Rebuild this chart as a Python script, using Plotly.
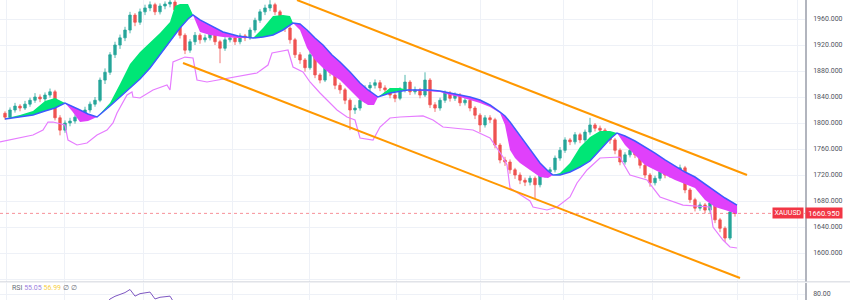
import plotly.graph_objects as go
import numpy as np

# ---------------- data ----------------
opens = [1815, 1809, 1820, 1826, 1823, 1829, 1835, 1840, 1837, 1843,
         1848, 1808, 1789, 1800, 1803, 1809, 1815, 1820, 1829, 1835,
         1866, 1878, 1905, 1920, 1931, 1943, 1966, 1955, 1971, 1977,
         1982, 1971, 1980, 1983, 1986, 1974, 1935, 1912, 1925, 1935,
         1928, 1931, 1937, 1925, 1915, 1928, 1931, 1925, 1934, 1931,
         1943, 1958, 1971, 1977, 1982, 1971, 1955, 1946, 1928, 1905,
         1897, 1885, 1905, 1874, 1866, 1889, 1878, 1858, 1851, 1835,
         1820, 1823, 1835, 1854, 1858, 1862, 1854, 1851, 1843, 1838,
         1851, 1863, 1848, 1851, 1843, 1866, 1828, 1823, 1835, 1846,
         1838, 1843, 1831, 1835, 1823, 1812, 1797, 1808, 1805, 1766,
         1743, 1740, 1728, 1720, 1712, 1709, 1715, 1705, 1720, 1725,
         1728, 1746, 1758, 1774, 1771, 1782, 1774, 1786, 1797, 1792,
         1789, 1778, 1774, 1758, 1740, 1751, 1758, 1751, 1735, 1720,
         1708, 1715, 1725, 1720, 1728, 1723, 1731, 1697, 1682, 1669,
         1674, 1666, 1677, 1651, 1638, 1623, 1663]
closes = [1809, 1820, 1826, 1823, 1829, 1835, 1840, 1837, 1843, 1848,
          1808, 1789, 1800, 1803, 1809, 1815, 1820, 1829, 1835, 1866,
          1878, 1905, 1920, 1931, 1943, 1966, 1955, 1971, 1977, 1982,
          1971, 1980, 1983, 1986, 1974, 1935, 1912, 1925, 1935, 1928,
          1931, 1937, 1925, 1915, 1928, 1931, 1925, 1934, 1931, 1943,
          1958, 1971, 1977, 1982, 1971, 1955, 1946, 1928, 1905, 1897,
          1885, 1905, 1874, 1866, 1889, 1878, 1858, 1851, 1835, 1820,
          1823, 1835, 1854, 1858, 1862, 1854, 1851, 1843, 1838, 1851,
          1863, 1848, 1851, 1843, 1866, 1828, 1823, 1835, 1846, 1838,
          1843, 1831, 1835, 1823, 1812, 1797, 1808, 1805, 1766, 1743,
          1740, 1728, 1720, 1712, 1709, 1715, 1705, 1720, 1725, 1728,
          1746, 1758, 1774, 1771, 1782, 1774, 1786, 1797, 1792, 1789,
          1778, 1774, 1758, 1740, 1751, 1758, 1751, 1735, 1720, 1708,
          1715, 1725, 1720, 1728, 1723, 1731, 1697, 1682, 1669, 1674,
          1666, 1677, 1651, 1638, 1623, 1663, 1660.95]
highs = [1818, 1824, 1831, 1829, 1834, 1839, 1846, 1844, 1847, 1853,
         1851, 1812, 1804, 1808, 1813, 1819, 1825, 1833, 1840, 1870,
         1884, 1909, 1925, 1936, 1948, 1971, 1969, 1976, 1982, 1987,
         1985, 1984, 1987, 1990, 1989, 1977, 1938, 1929, 1940, 1938,
         1936, 1941, 1940, 1928, 1932, 1935, 1934, 1938, 1937, 1947,
         1962, 1975, 1982, 1989, 1985, 1974, 1958, 1949, 1931, 1909,
         1900, 1912, 1908, 1877, 1894, 1892, 1881, 1862, 1854, 1838,
         1828, 1839, 1858, 1863, 1867, 1866, 1858, 1854, 1847, 1855,
         1874, 1866, 1856, 1854, 1878, 1869, 1832, 1839, 1850, 1849,
         1847, 1846, 1840, 1838, 1826, 1815, 1812, 1812, 1808, 1769,
         1748, 1744, 1731, 1724, 1716, 1719, 1718, 1724, 1729, 1732,
         1750, 1763, 1778, 1777, 1786, 1785, 1790, 1808, 1800, 1796,
         1792, 1781, 1777, 1761, 1755, 1763, 1761, 1754, 1738, 1723,
         1719, 1729, 1728, 1734, 1731, 1736, 1734, 1700, 1685, 1678,
         1677, 1681, 1680, 1654, 1641, 1667, 1674]
lows = [1805, 1806, 1816, 1818, 1820, 1825, 1831, 1832, 1833, 1839,
        1804, 1781, 1785, 1795, 1799, 1805, 1811, 1816, 1825, 1832,
        1860, 1874, 1900, 1914, 1926, 1938, 1949, 1951, 1966, 1972,
        1966, 1967, 1975, 1978, 1968, 1930, 1906, 1908, 1920, 1922,
        1924, 1927, 1920, 1892, 1911, 1924, 1920, 1921, 1926, 1928,
        1939, 1954, 1966, 1972, 1966, 1950, 1940, 1922, 1900, 1891,
        1879, 1882, 1869, 1861, 1863, 1872, 1852, 1845, 1829, 1789,
        1814, 1819, 1831, 1849, 1853, 1849, 1845, 1838, 1832, 1835,
        1847, 1843, 1844, 1838, 1840, 1823, 1817, 1819, 1831, 1833,
        1834, 1826, 1827, 1818, 1806, 1786, 1793, 1800, 1761, 1738,
        1734, 1722, 1714, 1706, 1703, 1704, 1684, 1701, 1716, 1720,
        1724, 1742, 1754, 1766, 1767, 1769, 1770, 1782, 1787, 1784,
        1773, 1768, 1752, 1735, 1736, 1747, 1746, 1730, 1715, 1702,
        1704, 1711, 1715, 1716, 1718, 1719, 1692, 1677, 1664, 1665,
        1661, 1662, 1646, 1632, 1617, 1620, 1656]

# moving-average cloud (slow = blue line, fast = cloud edge)
ma_x = [0, 3, 5.6, 8, 10, 12, 13.4, 15, 16.6, 18.4,
        21, 23, 25, 27, 29, 31, 33, 34, 35, 36.6,
        37.6, 39, 41, 43.6, 46.6, 49.6, 51.6, 53.6, 55.6, 57,
        57.6, 59, 60.4, 62, 63.6, 65.4, 67, 69, 71, 72.6,
        73.8, 74.6, 77, 79, 80.6, 83, 85, 87, 89, 91,
        93, 95, 97, 99, 100, 101, 102, 103, 105, 107,
        108.6, 109.6, 111, 113, 115, 117, 119, 121, 122.4, 124,
        126, 128, 130, 132, 134, 136, 138, 140, 142, 144,
        146.4]
ma_slow = [1806.1, 1809.2, 1812.3, 1818.5, 1823.1, 1830.8, 1826.2, 1820.0, 1813.8, 1809.2,
           1826.2, 1840.0, 1853.8, 1867.7, 1884.6, 1904.6, 1924.6, 1935.4, 1946.2, 1960.0,
           1966.2, 1958.5, 1950.8, 1940.0, 1933.8, 1930.8, 1932.3, 1935.4, 1943.1, 1950.8,
           1953.8, 1952.3, 1943.1, 1930.8, 1920.0, 1904.6, 1893.8, 1878.5, 1861.5, 1850.8,
           1844.6, 1840.0, 1846.2, 1849.2, 1850.8, 1850.8, 1850.8, 1849.2, 1846.2, 1843.1,
           1840.0, 1835.4, 1827.7, 1816.9, 1810.8, 1801.5, 1790.8, 1780.0, 1758.5, 1738.5,
           1726.2, 1720.0, 1720.0, 1724.6, 1732.3, 1741.5, 1758.5, 1775.4, 1784.6, 1780.0,
           1772.3, 1763.1, 1753.8, 1743.1, 1733.8, 1724.6, 1716.9, 1706.2, 1695.4, 1684.6,
           1673.8]
ma_fast = [1806.9, 1812.3, 1818.5, 1833.8, 1838.5, 1830.8, 1818.5, 1801.5, 1803.1, 1809.2,
           1830.8, 1860.0, 1890.8, 1909.2, 1923.1, 1938.5, 1955.4, 1980.0, 1983.1, 1983.1,
           1966.2, 1940.0, 1935.4, 1932.3, 1930.8, 1930.8, 1946.2, 1964.6, 1966.2, 1964.6,
           1953.8, 1943.1, 1915.4, 1896.9, 1884.6, 1873.8, 1866.2, 1850.8, 1835.4, 1827.7,
           1827.7, 1840.0, 1853.8, 1853.8, 1850.8, 1850.0, 1849.2, 1847.7, 1843.1, 1840.0,
           1835.4, 1830.8, 1824.6, 1815.4, 1796.9, 1758.5, 1746.2, 1738.5, 1727.7, 1716.9,
           1715.4, 1720.0, 1723.1, 1738.5, 1763.1, 1778.5, 1787.7, 1787.7, 1784.6, 1766.2,
           1750.8, 1735.4, 1727.7, 1720.0, 1712.3, 1706.2, 1700.0, 1681.5, 1670.8, 1666.2,
           1660.0]

# lower violet line
low_x = [-1, 3, 5.6, 7.6, 8.6, 9.6, 12, 12.6, 14.4, 16.4,
         18.4, 20.4, 21.6, 22.4, 24.4, 25.4, 25.6, 27, 29.6, 32.4,
         33, 33.6, 36, 37.6, 38.4, 40.4, 45, 47.6, 50.4, 52.6,
         53.4, 56.6, 57.6, 59.6, 61, 63, 66.4, 68.4, 70, 71,
         73.6, 75, 77, 79, 83.6, 85.6, 87.6, 93.6, 97, 99.6,
         100.4, 101, 103.6, 105, 105.6, 108.4, 110.4, 113, 114.4, 116.4,
         119, 123, 123.6, 125, 128.4, 129.6, 131, 135.6, 141, 141.6,
         143.6, 145, 146.4]
low_line = [1770.8, 1776.9, 1781.5, 1789.2, 1801.5, 1801.5, 1796.9, 1773.8, 1766.2, 1769.2,
            1781.5, 1789.2, 1800.0, 1815.4, 1843.1, 1847.7, 1840.0, 1838.5, 1850.8, 1858.5,
            1850.8, 1893.8, 1901.5, 1900.0, 1866.2, 1863.1, 1869.2, 1873.8, 1876.9, 1889.2,
            1907.7, 1912.3, 1886.2, 1878.5, 1863.1, 1846.2, 1820.0, 1809.2, 1804.6, 1776.9,
            1773.8, 1793.8, 1807.7, 1809.2, 1810.8, 1804.6, 1793.8, 1789.2, 1776.9, 1747.7,
            1735.4, 1700.0, 1686.2, 1680.0, 1670.8, 1666.2, 1670.8, 1686.2, 1707.7, 1727.7,
            1746.2, 1747.7, 1738.5, 1720.0, 1712.3, 1700.0, 1686.2, 1673.8, 1670.8, 1640.0,
            1620.0, 1609.2, 1607.7]

# channel drawing anchors (bar index, price)
chan_upper_x = [58.4, 148.4]
chan_upper_y = [1989.2, 1720.0]
chan_lower_x = [35.6, 147.0]
chan_lower_y = [1892.3, 1561.5]

last_price = 1660.95
price_ticks = [1560, 1600, 1640, 1680, 1720, 1760, 1800, 1840, 1880, 1920, 1960]
month_grid = [0.2, 11.8, 27.6, 45.4, 60.8, 78.2, 95, 111.6, 129.4, 146.4, 158.4]
rsi_legend = ["55.05", "56.99"]
rsi_period = 14

# ---------------- derived ----------------
idx = list(range(len(closes)))

cl = np.array(closes, dtype=float)
d = np.diff(cl)
up = np.where(d > 0, d, 0.0)
dn = np.where(d < 0, -d, 0.0)
rsi = [None] * len(cl)
au = up[:rsi_period].mean()
ad = dn[:rsi_period].mean()
rsi[rsi_period] = 100 - 100 / (1 + au / ad) if ad > 0 else 100
for k in range(rsi_period, len(d)):
    au = (au * (rsi_period - 1) + up[k]) / rsi_period
    ad = (ad * (rsi_period - 1) + dn[k]) / rsi_period
    rsi[k + 1] = 100 - 100 / (1 + au / ad) if ad > 0 else 100


def cloud_segments(xs, fa, sl):
    segs = []
    cx, cf, cs = [xs[0]], [fa[0]], [sl[0]]
    for k in range(len(xs) - 1):
        d0 = fa[k] - sl[k]
        d1 = fa[k + 1] - sl[k + 1]
        if d0 * d1 < 0:
            t = d0 / (d0 - d1)
            xc = xs[k] + t * (xs[k + 1] - xs[k])
            yc = sl[k] + t * (sl[k + 1] - sl[k])
            cx.append(xc); cf.append(yc); cs.append(yc)
            segs.append((cx, cf, cs))
            cx, cf, cs = [xc], [yc], [yc]
        cx.append(xs[k + 1]); cf.append(fa[k + 1]); cs.append(sl[k + 1])
        if d1 == 0 and k + 1 < len(xs) - 1:
            segs.append((cx, cf, cs))
            cx, cf, cs = [xs[k + 1]], [fa[k + 1]], [sl[k + 1]]
    segs.append((cx, cf, cs))
    return segs


GREEN = "#00e676"
MAGENTA = "#e040fb"
FONT = "Roboto, Arial, sans-serif"

fig = go.Figure()

for sx, sf, ss in cloud_segments(ma_x, ma_fast, ma_slow):
    if len(sx) < 2:
        continue
    diff = sum(f - s for f, s in zip(sf, ss))
    col = GREEN if diff > 0 else MAGENTA
    fig.add_trace(go.Scatter(
        x=sx + sx[::-1], y=sf + ss[::-1], fill="toself", fillcolor=col,
        mode="lines", line=dict(width=0, color=col), hoverinfo="skip",
        showlegend=False))

fig.add_trace(go.Scatter(x=ma_x, y=ma_slow, mode="lines",
                         line=dict(color="#3d5afe", width=1.5),
                         showlegend=False))
fig.add_trace(go.Scatter(x=low_x, y=low_line, mode="lines",
                         line=dict(color="#e67cff", width=1.2), showlegend=False))

fig.add_trace(go.Candlestick(
    x=idx, open=opens, high=highs, low=lows, close=closes,
    increasing=dict(line=dict(color="#26a69a", width=0.8), fillcolor="#26a69a"),
    decreasing=dict(line=dict(color="#ef5350", width=0.8), fillcolor="#ef5350"),
    whiskerwidth=0, showlegend=False))

fig.add_trace(go.Scatter(x=chan_upper_x, y=chan_upper_y, mode="lines",
                         line=dict(color="#ff9800", width=2), showlegend=False))
fig.add_trace(go.Scatter(x=chan_lower_x, y=chan_lower_y, mode="lines",
                         line=dict(color="#ff9800", width=2), showlegend=False))

fig.add_trace(go.Scatter(x=idx, y=rsi, mode="lines", xaxis="x2", yaxis="y2",
                         line=dict(color="#7e57c2", width=1), showlegend=False))

fig.add_shape(type="line", xref="paper", x0=0, x1=1, yref="y", y0=last_price, y1=last_price,
              line=dict(color="rgba(242,54,69,0.55)", width=1, dash="dot"))
fig.add_shape(type="line", xref="paper", x0=0, x1=1.06, yref="paper", y0=0.0605, y1=0.0605,
              line=dict(color="#d1d4dc", width=1))

fig.add_annotation(x=1, xref="paper", xanchor="left", y=last_price, yref="y",
                   text=f"{last_price:.3f}", showarrow=False, bgcolor="#f23645",
                   font=dict(color="white", size=7.5, family=FONT), width=36, height=10,
                   borderpad=0)
fig.add_annotation(x=1, xref="paper", xanchor="right", xshift=-1, y=last_price, yref="y",
                   text="XAUUSD", showarrow=False, bgcolor="#f23645",
                   font=dict(color="white", size=7, family=FONT), width=30, height=10,
                   borderpad=0)
fig.add_annotation(x=0.012, xref="paper", xanchor="left", y=0.04, yref="paper",
                   yanchor="middle", showarrow=False,
                   text=(f"RSI <span style='color:#9c7fe0'>{rsi_legend[0]}</span> "
                         f"<span style='color:#f7d046'>{rsi_legend[1]}</span> ∅ ∅"),
                   font=dict(color="#6a6d78", size=7, family=FONT))

fig.update_layout(
    width=850, height=300, margin=dict(l=0, r=45, t=0, b=0),
    paper_bgcolor="white", plot_bgcolor="white", showlegend=False,
    xaxis=dict(domain=[0, 1], range=[-1, 160], tickvals=month_grid, showticklabels=False,
               showgrid=True, gridcolor="#eef1f7", gridwidth=1, zeroline=False,
               rangeslider=dict(visible=False), fixedrange=True, anchor="y"),
    yaxis=dict(domain=[0.06, 1], range=[1555.4, 1989.23], side="right",
               tickvals=price_ticks,
               ticktext=["" if v == 1560 else f"{v:.3f}" for v in price_ticks],
               tickfont=dict(size=7, color="#50535e", family=FONT),
               showgrid=True, gridcolor="#eef1f7", zeroline=False,
               showline=True, linecolor="#b2b5be", linewidth=1.5,
               ticks="", ticklabelstandoff=5, anchor="x"),
    xaxis2=dict(domain=[0, 1], range=[-1, 160], tickvals=month_grid, showticklabels=False,
                showgrid=True, gridcolor="#eef1f7", zeroline=False, anchor="y2",
                matches="x"),
    yaxis2=dict(domain=[0, 0.0567], range=[75.2, 88.8], side="right",
                tickvals=[80], ticktext=["80.00"],
                tickfont=dict(size=7, color="#50535e", family=FONT),
                showgrid=True, gridcolor="#eef1f7", zeroline=False,
                showline=True, linecolor="#b2b5be", linewidth=1.5,
                ticks="", ticklabelstandoff=5, anchor="x2"),
)

fig.write_html("out.html")
